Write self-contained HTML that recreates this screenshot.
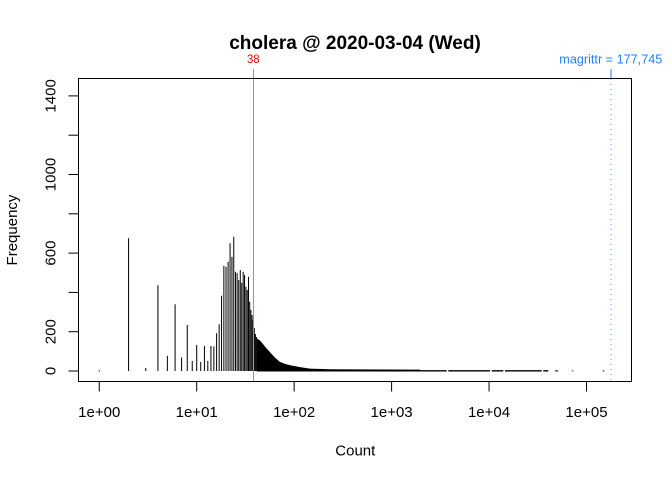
<!DOCTYPE html>
<html>
<head>
<meta charset="utf-8">
<style>
html,body{margin:0;padding:0;background:#fff;}
svg{display:block;}
text{font-family:"Liberation Sans",Arial,sans-serif;}
</style>
</head>
<body>
<svg width="672" height="480" viewBox="0 0 672 480" xmlns="http://www.w3.org/2000/svg">
<rect x="0" y="0" width="672" height="480" fill="#fff"/>
<text x="355" y="49" font-size="19" font-weight="bold" text-anchor="middle" fill="#000">cholera @ 2020-03-04 (Wed)</text>
<path fill="none" stroke="#000" stroke-width="1" d="M99.25 371.5V370.2 M128.59 371V238.3 M145.75 371V368 M157.92 371V285.3 M167.36 371V355.7 M175.08 371V304.3 M181.60 371V357.5 M187.26 371V325 M192.24 371V361 M196.70 371V345 M200.73 371V362 M204.42 371V346 M207.80 371V361 M210.94 371V346 M213.86 371V346.5 M216.59 371V333.3 M219.16 371V324.3 M221.57 371V295.7 M223.86 371V265.7 M226.03 371V266.7 M228.10 371V261.7 M230.07 371V243.3 M231.95 371V256.7 M233.75 371V236.7 M235.48 371V271.7 M237.14 371V273.3 M238.73 371V280 M240.28 371V270 M241.76 371V282.7 M243.20 371V271.7 M244.58 371V275 M245.93 371V286.7 M247.23 371V290 M248.49 371V276.7 M249.72 371V301.7 M250.91 371V310 M252.07 371V315 M253.20 371V320 M254.30 371V328 M255.37 371V334 M256.42 371V337"/>
<polygon fill="#000" points="256.9,371.5 256.9,338 257.4,339 259.4,340 262.2,343 264.8,346.4 269.6,351.7 274.6,357.2 279.7,361.8 284.7,363.7 289.7,365.1 300.1,367.1 309.9,368.6 330.3,369.3 420,369.6 420,371.5"/>
<g fill="#222">
<rect x="420" y="370" width="26.7" height="1.6"/>
<rect x="448.3" y="370" width="41.7" height="1.6"/>
<rect x="491.7" y="370" width="11.6" height="1.6"/>
<rect x="505" y="370" width="36.7" height="1.6"/>
<rect x="543.3" y="370" width="5" height="1.6"/>
<rect x="555" y="370" width="3.3" height="1.6" fill="#666"/>
<rect x="571.7" y="370" width="1.6" height="1.6" fill="#888"/>
<rect x="602.7" y="370" width="1.6" height="1.6" fill="#666"/>
</g>
<line x1="253.5" y1="69" x2="253.5" y2="381" stroke="#ff6a6a" stroke-width="1"/>
<text x="253.3" y="63" font-size="12" text-anchor="middle" fill="#ff0000" textLength="12.7" lengthAdjust="spacingAndGlyphs">38</text>
<line x1="611" y1="69" x2="611" y2="78.5" stroke="#1e80ff" stroke-width="1"/>
<line x1="611" y1="79" x2="611" y2="381" stroke="#4d94ff" stroke-width="1" stroke-dasharray="1 4"/>
<text x="610.8" y="63.5" font-size="12.5" text-anchor="middle" fill="#1e80ff" textLength="103" lengthAdjust="spacingAndGlyphs">magrittr = 177,745</text>
<rect x="78.5" y="78.5" width="553" height="303" fill="none" stroke="#000" stroke-width="1"/>
<g stroke="#000" stroke-width="1">
<line x1="78.5" y1="371" x2="78.5" y2="95.9"/>
<line x1="68.5" y1="371" x2="78.5" y2="371"/>
<line x1="68.5" y1="331.7" x2="78.5" y2="331.7"/>
<line x1="68.5" y1="292.4" x2="78.5" y2="292.4"/>
<line x1="68.5" y1="253.1" x2="78.5" y2="253.1"/>
<line x1="68.5" y1="213.8" x2="78.5" y2="213.8"/>
<line x1="68.5" y1="174.5" x2="78.5" y2="174.5"/>
<line x1="68.5" y1="135.2" x2="78.5" y2="135.2"/>
<line x1="68.5" y1="95.9" x2="78.5" y2="95.9"/>
</g>
<g font-size="15" fill="#000" text-anchor="middle">
<text transform="translate(55.5,371) rotate(-90)">0</text>
<text transform="translate(55.5,331.7) rotate(-90)">200</text>
<text transform="translate(55.5,253.1) rotate(-90)">600</text>
<text transform="translate(55.5,174.5) rotate(-90)">1000</text>
<text transform="translate(55.5,95.9) rotate(-90)">1400</text>
<text transform="translate(17,230) rotate(-90)">Frequency</text>
</g>
<g stroke="#000" stroke-width="1">
<line x1="99.25" y1="381.5" x2="586.5" y2="381.5"/>
<line x1="99.25" y1="381.5" x2="99.25" y2="391.5"/>
<line x1="196.7" y1="381.5" x2="196.7" y2="391.5"/>
<line x1="294.15" y1="381.5" x2="294.15" y2="391.5"/>
<line x1="391.6" y1="381.5" x2="391.6" y2="391.5"/>
<line x1="489.05" y1="381.5" x2="489.05" y2="391.5"/>
<line x1="586.5" y1="381.5" x2="586.5" y2="391.5"/>
</g>
<g font-size="15" fill="#000" text-anchor="middle">
<text x="99.25" y="417">1e+00</text>
<text x="196.7" y="417">1e+01</text>
<text x="294.15" y="417">1e+02</text>
<text x="391.6" y="417">1e+03</text>
<text x="489.05" y="417">1e+04</text>
<text x="586.5" y="417">1e+05</text>
<text x="355.3" y="455.5">Count</text>
</g>
</svg>
</body>
</html>
